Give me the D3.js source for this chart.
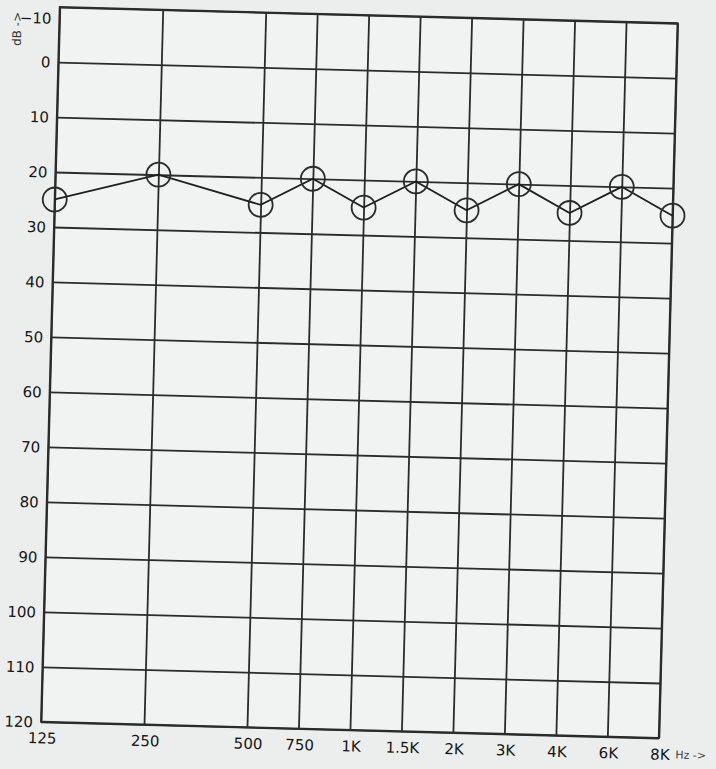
<!DOCTYPE html>
<html>
<head>
<meta charset="utf-8">
<script src="https://cdn.jsdelivr.net/npm/d3@7"></script>
<style>
 body { margin:0; background:#eceeed; }
 svg { display:block; }
</style>
</head>
<body>
<div id="graph"></div>
<script>
// audiogram values
var freqs = [125, 250, 500, 750, 1000, 1500, 2000, 3000, 4000, 6000, 8000];
var freqLabels = ["125", "250", "500", "750", "1K", "1.5K", "2K", "3K", "4K", "6K", "8K"];
var thresholds = [25, 20, 25, 20, 25, 20, 25, 20, 25, 20, 25];
var dbTicks = [-10, 0, 10, 20, 30, 40, 50, 60, 70, 80, 90, 100, 110, 120];

const width = 716
const height = 769
// plot box (window.top is reserved, so no plain "top")
var plotLeft = 50, plotRight = 668, plotTop = 15, plotBottom = 730;

// octaves drawn one column pair apart, in-between freqs sit on the half column
function octave(f) {
	var o = Math.log2(f / 125);
	return Math.abs(o - Math.round(o)) < 0.001 ? Math.round(o) : Math.floor(o) + 0.5;
}
var oct = d3.scaleLinear().domain([0, 6]).range([plotLeft, plotRight]);
var x = d3.scaleLinear().domain(freqs).range(freqs.map(f => oct(octave(f))));
var y = d3.scaleLinear().domain([-10, 120]).range([plotTop, plotBottom]);

var svg = d3.select("div#graph")
	.append("svg")
	.attr("width", width)
	.attr("height", height)

svg.append("rect")
	.attr("width", width)
	.attr("height", height)
	.style("fill", "#eceeed")

// the scan is a little turned, so turn the whole sheet with it
var g = svg.append("g")
	.attr("transform", "rotate(1.5 358 384)")

g.append("rect")
	.attr("x", plotLeft)
	.attr("y", plotTop)
	.attr("width", plotRight - plotLeft)
	.attr("height", plotBottom - plotTop)
	.style("fill", "#f1f3f2")

var yAxis = g.append("g")
	.attr("transform", "translate(" + plotLeft + ",0)")
	.call(d3.axisLeft(y).tickValues(dbTicks).tickSize(-(plotRight - plotLeft)).tickPadding(8))
yAxis.select(".domain").remove()
yAxis.selectAll("line").style("stroke", "#2b2b2b").style("stroke-width", "1.8px")
yAxis.selectAll("text")
	.style("font-family", "'DejaVu Sans', Verdana, sans-serif")
	.style("font-size", "15px")
	.style("fill", "#151515")
	.attr("dy", d => d == -10 ? "1.1em" : "0.35em")

var xAxis = g.append("g")
	.attr("transform", "translate(0," + plotBottom + ")")
	.call(d3.axisBottom(x).tickValues(freqs).tickFormat((d, i) => freqLabels[i]).tickSize(-(plotBottom - plotTop)).tickPadding(11))
xAxis.select(".domain").remove()
xAxis.selectAll("line").style("stroke", "#2b2b2b").style("stroke-width", "1.8px")
xAxis.selectAll("text")
	.style("font-family", "'DejaVu Sans', Verdana, sans-serif")
	.style("font-size", "15px")
	.style("fill", "#151515")
	.attr("dx", "1")

g.append("rect")
	.attr("x", plotLeft)
	.attr("y", plotTop)
	.attr("width", plotRight - plotLeft)
	.attr("height", plotBottom - plotTop)
	.style("fill", "none")
	.style("stroke", "#2b2b2b")
	.style("stroke-width", "2px")

g.append("text")
	.attr("transform", "translate(" + (plotLeft - 38) + "," + (plotTop + 40) + ") rotate(-90)")
	.style("font-family", "'DejaVu Sans', Verdana, sans-serif")
	.style("font-size", "12px")
	.style("fill", "#333")
	.text("dB ->")

g.append("text")
	.attr("x", plotRight + 17)
	.attr("y", plotBottom + 20)
	.style("font-family", "'DejaVu Sans', Verdana, sans-serif")
	.style("font-size", "11px")
	.style("fill", "#444")
	.text("Hz ->")

var line = d3.line().x((d, i) => x(freqs[i])).y(d => y(d))
g.append("path")
	.datum(thresholds)
	.attr("d", line)
	.style("fill", "none")
	.style("stroke", "#1e1e1e")
	.style("stroke-width", "1.8px")

g.selectAll("circle.pt").data(thresholds).enter().append("circle")
	.attr("class", "pt")
	.attr("cx", (d, i) => x(freqs[i]))
	.attr("cy", d => y(d))
	.attr("r", 12)
	.style("fill", "none")
	.style("stroke", "#2a2a2a")
	.style("stroke-width", "1.8px")
</script>
</body>
</html>
